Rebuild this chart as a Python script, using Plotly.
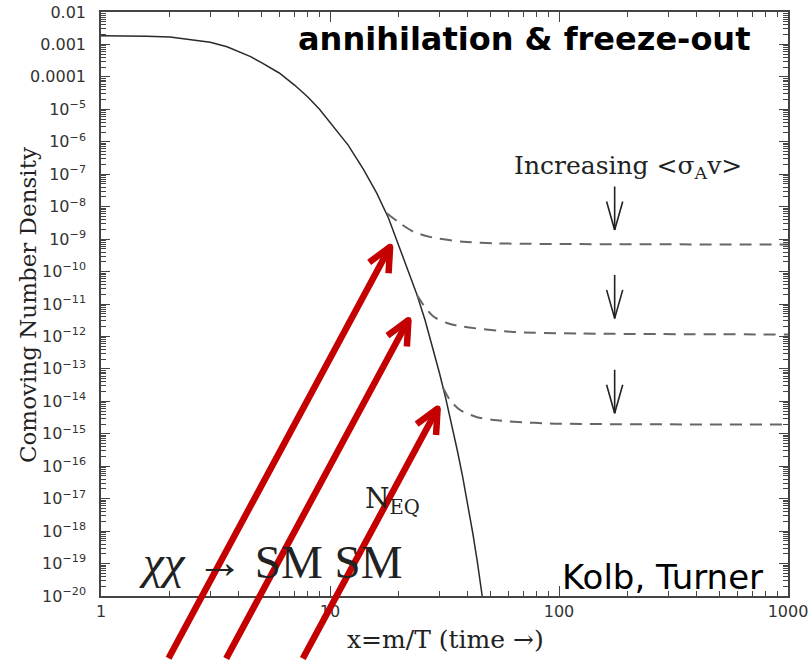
import numpy as np
import plotly.graph_objects as go

# Equilibrium comoving number density N_EQ versus x = m/T
neq_x = [1.0, 1.26, 1.58, 2.0, 2.5, 3.0, 3.55, 4.0, 4.5, 5.0, 6.0, 7.0, 8.0, 9.0, 10.0, 12.0,
         14.0, 16.0, 18.0, 20.0, 22.0, 24.0, 26.0, 28.0, 30.0, 32.0, 34.0, 36.0, 38.0, 40.0,
         42.0, 44.0, 46.2]
neq_y = [1.86e-3, 1.86e-3, 1.80e-3, 1.70e-3, 1.41e-3, 1.17e-3, 8.5e-4, 6.0e-4, 4.2e-4, 2.8e-4,
         1.32e-4, 5.6e-5, 2.4e-5, 1.0e-5, 4.0e-6, 7.9e-7, 1.41e-7, 2.6e-8, 4.5e-9, 6.3e-10,
         1.12e-10, 1.9e-11, 3.2e-12, 5.0e-13, 7.9e-14, 1.26e-14, 2.0e-15, 3.0e-16, 4.5e-17,
         6.3e-18, 8.9e-19, 1.12e-19, 1.0e-20]

# Freeze-out relic curves for three annihilation cross sections
fo1_x = [17.7, 20.2, 23.1, 27.3, 38.2, 53.5, 88.4, 1000]
fo1_y = [6.3e-9, 3.1e-9, 1.7e-9, 1.17e-9, 8.3e-10, 7.4e-10, 7.1e-10, 6.8e-10]
fo2_x = [24.0, 25.6, 28.3, 32.4, 38.2, 63.1, 123.6, 1000]
fo2_y = [1.9e-11, 9.3e-12, 4.1e-12, 2.6e-12, 2.0e-12, 1.38e-12, 1.23e-12, 1.15e-12]
fo3_x = [31.2, 33.4, 37.0, 43.6, 53.5, 88.4, 1000]
fo3_y = [2.6e-14, 1.1e-14, 5.4e-15, 3.3e-15, 2.6e-15, 2.1e-15, 1.95e-15]

# "Increasing <sigma v>" arrows: x position, (tail, tip) densities
sig_arrow_x = 175
sig_arrow_tail = [4.7e-8, 2.6e-10, 4.8e-13]
sig_arrow_tip = [1.9e-9, 3.6e-12, 4.3e-15]

# Red pointer arrows aimed at the freeze-out points, with their shaft lengths (px)
ptr_x = [18.3, 22.0, 29.5]
ptr_y = [5.8e-10, 3.2e-12, 6.0e-15]
ptr_len = [469, 386, 286]

tick_x = [1, 10, 100, 1000]
tick_x_text = ["1", "10", "100", "1000"]
tick_y = [10.0 ** e for e in range(-20, -1)]
tick_y_text = [("10<sup>\u2212%d</sup>" % -e) if e <= -5 else {-4: "0.0001", -3: "0.001", -2: "0.01"}[e]
               for e in range(-20, -1)]

SERIF = "DejaVu Serif"
SANS = "DejaVu Sans"
RED = "#c40000"

fig = go.Figure()

fig.add_trace(go.Scatter(x=neq_x, y=neq_y, mode="lines", line=dict(color="#2a2a2a", width=1.5),
                         hoverinfo="skip", showlegend=False))
for fx, fy in [(fo1_x, fo1_y), (fo2_x, fo2_y), (fo3_x, fo3_y)]:
    fig.add_trace(go.Scatter(x=fx, y=fy, mode="lines",
                             line=dict(color="#666666", width=2, dash="12px,8px", shape="spline", smoothing=0.8),
                             hoverinfo="skip", showlegend=False))

# small round joints at the red arrow tips
fig.add_trace(go.Scatter(x=ptr_x, y=ptr_y, mode="markers", marker=dict(color=RED, size=6),
                         cliponaxis=False, hoverinfo="skip", showlegend=False))

ann = []
# black "increasing cross section" arrows (shaft + open chevron)
for tail, tip in zip(sig_arrow_tail, sig_arrow_tip):
    for ax, ay in [(0, -45), (-8.5, -30), (8.5, -30)]:
        ann.append(dict(x=np.log10(sig_arrow_x), y=np.log10(tip), xref="x", yref="y", text="",
                        showarrow=True, arrowhead=0, arrowwidth=1.6, arrowcolor="#222222",
                        ax=ax, ay=ay, axref="pixel", ayref="pixel", standoff=0, startstandoff=0))

# red pointer arrows, running in from below the axis
ang = np.deg2rad(118.3)
for px, py, L in zip(ptr_x, ptr_y, ptr_len):
    for a, ln in [(ang, L), (ang - np.deg2rad(25), 28), (ang + np.deg2rad(25), 28)]:
        ann.append(dict(x=np.log10(px), y=np.log10(py), xref="x", yref="y", text="",
                        showarrow=True, arrowhead=0, arrowwidth=6.5, arrowcolor=RED,
                        ax=ln * np.cos(a), ay=ln * np.sin(a), axref="pixel", ayref="pixel",
                        standoff=0, startstandoff=0))


def label(x, y, text, family, size, color="#222222", angle=0):
    return dict(x=x, y=y, xref="paper", yref="paper", text=text, textangle=angle,
                xanchor="center", yanchor="middle", showarrow=False,
                font=dict(family=family, size=size, color=color))


ann += [
    label(0.616, 0.954, "<b>annihilation &amp; freeze-out</b>", SANS, 32, "#000000"),
    label(0.818, 0.033, "Kolb, Turner", SANS, 34, "#000000"),
    label(0.246, 0.058, "<i>\u03c7\u03c7</i> \u2192 SM SM", "Liberation Serif", 47),
    label(0.424, 0.164, "N<sub>EQ</sub>", SERIF, 28),
    label(0.767, 0.735, "Increasing &lt;\u03c3<sub>A</sub>v&gt;", SERIF, 25),
    label(-0.107, 0.499, "Comoving Number Density", SERIF, 23, angle=-90),
    label(0.502, -0.075, "x=m/T (time \u2192)", SERIF, 25),
]

axis_common = dict(type="log", showgrid=False, zeroline=False, showline=True, linecolor="#444444", linewidth=1.5,
                   mirror="allticks", ticks="inside", tickcolor="#444444", tickwidth=1.3, automargin=False,
                   tickfont=dict(family=SANS, size=16, color="#333333"))

fig.update_layout(
    width=809, height=660,
    margin=dict(l=101, r=21, t=12, b=64),
    paper_bgcolor="white", plot_bgcolor="white",
    annotations=ann,
    xaxis=dict(axis_common, range=[0, 3], tickvals=tick_x, ticktext=tick_x_text, ticklen=10,
               minor=dict(ticks="inside", ticklen=5, dtick="D1", tickcolor="#444444", tickwidth=1.2),
               ticklabelstandoff=0),
    yaxis=dict(axis_common, range=[-20, -2], tickvals=tick_y, ticktext=tick_y_text, ticklen=9,
               minor=dict(ticks="inside", ticklen=5, dtick="D1", tickcolor="#444444", tickwidth=1.0),
               ticklabelstandoff=10),
)

fig.write_html("out.html")
